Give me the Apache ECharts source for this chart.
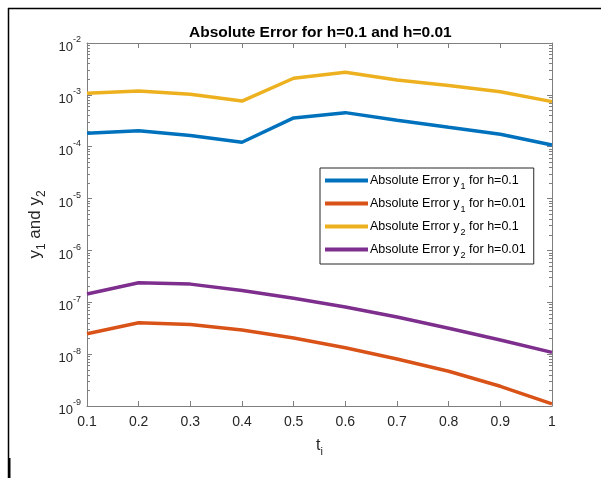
<!DOCTYPE html>
<html>
<head>
<meta charset="utf-8">
<script src="https://cdn.jsdelivr.net/npm/echarts@6/dist/echarts.min.js"></script>
<style>
  html, body { margin: 0; padding: 0; background: #fff; }
  #chart { width: 601px; height: 478px; }
</style>
</head>
<body>
<div id="chart"></div>
<script>
// t_i values
var ti = [0.1, 0.2, 0.3, 0.4, 0.5, 0.6, 0.7, 0.8, 0.9, 1.0];
// absolute errors
var errY1h01  = [1.82e-4, 2.04e-4, 1.64e-4, 1.22e-4, 3.59e-4, 4.54e-4, 3.24e-4, 2.37e-4, 1.74e-4, 1.08e-4];
var errY1h001 = [2.47e-8, 4.03e-8, 3.74e-8, 2.91e-8, 2.04e-8, 1.33e-8, 8.05e-9, 4.67e-9, 2.4e-9, 1.1e-9];
var errY2h01  = [1.07e-3, 1.19e-3, 1.03e-3, 7.6e-4, 2.09e-3, 2.72e-3, 1.94e-3, 1.51e-3, 1.15e-3, 7.4e-4];
var errY2h001 = [1.44e-7, 2.38e-7, 2.24e-7, 1.69e-7, 1.2e-7, 8.1e-8, 5.2e-8, 3.15e-8, 1.87e-8, 1.08e-8];

var names = [
  'Absolute Error y1 for h=0.1',
  'Absolute Error y1 for h=0.01',
  'Absolute Error y2 for h=0.1',
  'Absolute Error y2 for h=0.01'
];
var legendText = [
  'Absolute Error y{sub|1} for h=0.1',
  'Absolute Error y{sub|1} for h=0.01',
  'Absolute Error y{sub|2} for h=0.1',
  'Absolute Error y{sub|2} for h=0.01'
];
var colors = ['#0072BD', '#D95319', '#EDB120', '#7E2F8E'];
var allData = [errY1h01, errY1h001, errY2h01, errY2h001];

function pairs(arr) {
  var out = [];
  for (var i = 0; i < ti.length; i++) {
    out.push([ti[i], arr[i]]);
  }
  return out;
}

var axisColor = '#7f7f7f';
var labelColor = '#262626';
var font = 'Liberation Sans, Arial, sans-serif';

var myChart = echarts.init(document.getElementById('chart'));

var series = [];
for (var s = 0; s < 4; s++) {
  series.push({
    name: names[s],
    type: 'line',
    data: pairs(allData[s]),
    showSymbol: false,
    symbol: 'none',
    lineStyle: { width: 3.5, color: colors[s] },
    itemStyle: { color: colors[s] },
    animation: false
  });
}

myChart.setOption({
  animation: false,
  color: colors,
  title: {
    text: 'Absolute Error for h=0.1 and h=0.01',
    left: 184,
    top: 20,
    textStyle: { fontFamily: font, fontSize: 15.5, fontWeight: 'bold', color: '#000' }
  },
  grid: { left: 87, right: 49, top: 43, bottom: 72, containLabel: false },
  legend: {
    orient: 'vertical',
    left: 320,
    top: 168,
    backgroundColor: '#fff',
    borderColor: '#262626',
    borderWidth: 1,
    padding: [5, 8, 4, 5],
    itemGap: 5,
    itemWidth: 43,
    itemHeight: 4,
    icon: 'rect',
    data: names,
    formatter: function (name) {
      return legendText[names.indexOf(name)];
    },
    textStyle: {
      fontFamily: font,
      fontSize: 12.5,
      color: '#000',
      lineHeight: 15,
      padding: [0, 0, 0, -3],
      rich: {
        sub: { fontFamily: font, fontSize: 9, verticalAlign: 'bottom', lineHeight: 12, padding: [0, 0, -3, 1] }
      }
    }
  },
  xAxis: [{
    type: 'value',
    min: 0.1,
    max: 1,
    interval: 0.1,
    name: 't{sub|i}',
    nameLocation: 'middle',
    nameGap: 28,
    nameTextStyle: {
      fontFamily: font, fontSize: 16, color: labelColor,
      rich: { sub: { fontFamily: font, fontSize: 11, color: labelColor, padding: [12, 0, 0, 0] } }
    },
    axisLine: { show: true, onZero: false, lineStyle: { color: axisColor, width: 1 } },
    axisTick: { show: true, inside: true, length: 5, lineStyle: { color: axisColor } },
    axisLabel: {
      fontFamily: font, fontSize: 14, color: labelColor, margin: 9,
      formatter: function (v) { return Math.round(v * 10) / 10 + ''; }
    },
    splitLine: { show: false }
  }, {
    type: 'value',
    position: 'top',
    min: 0.1,
    max: 1,
    interval: 0.1,
    axisLine: { show: true, onZero: false, lineStyle: { color: axisColor, width: 1 } },
    axisTick: { show: true, inside: true, length: 5, lineStyle: { color: axisColor } },
    axisLabel: { show: false },
    splitLine: { show: false }
  }],
  yAxis: [{
    type: 'log',
    logBase: 10,
    min: 1e-9,
    max: 1e-2,
    name: 'y{sub|1} and y{sub|2}',
    nameLocation: 'middle',
    nameRotate: 90,
    nameGap: 39,
    nameTextStyle: {
      fontFamily: font, fontSize: 17, color: labelColor,
      rich: { sub: { fontFamily: font, fontSize: 12, color: labelColor, padding: [12, 0, 0, 0] } }
    },
    axisLine: { show: true, onZero: false, lineStyle: { color: axisColor, width: 1 } },
    axisTick: { show: true, inside: true, length: 5, lineStyle: { color: axisColor } },
    minorTick: { show: true, splitNumber: 9, length: 3, lineStyle: { color: axisColor } },
    axisLabel: {
      fontFamily: font, fontSize: 13, color: labelColor, margin: 6,
      formatter: function (v) {
        return '{b|10}{sup|' + Math.round(Math.log10(v)) + '}';
      },
      rich: {
        b: { fontFamily: font, fontSize: 13, color: labelColor, padding: [9, 0, 0, 0] },
        sup: { fontFamily: font, fontSize: 9, color: labelColor, padding: [0, 0, 6, 0] }
      }
    },
    splitLine: { show: false }
  }, {
    type: 'log',
    logBase: 10,
    min: 1e-9,
    max: 1e-2,
    position: 'right',
    axisLine: { show: true, onZero: false, lineStyle: { color: axisColor, width: 1 } },
    axisTick: { show: true, inside: true, length: 5, lineStyle: { color: axisColor } },
    minorTick: { show: true, splitNumber: 9, length: 3, lineStyle: { color: axisColor } },
    axisLabel: { show: false },
    splitLine: { show: false }
  }],
  graphic: [
    { type: 'line', shape: { x1: 8, y1: 8.5, x2: 601, y2: 8.5 }, style: { stroke: '#000', lineWidth: 1.5 }, silent: true },
    { type: 'line', shape: { x1: 8.5, y1: 8, x2: 8.5, y2: 478 }, style: { stroke: '#000', lineWidth: 1.5 }, silent: true },
    { type: 'rect', shape: { x: 8, y: 458, width: 2.5, height: 20 }, style: { fill: '#000' }, silent: true }
  ],
  series: series
});
</script>
</body>
</html>
